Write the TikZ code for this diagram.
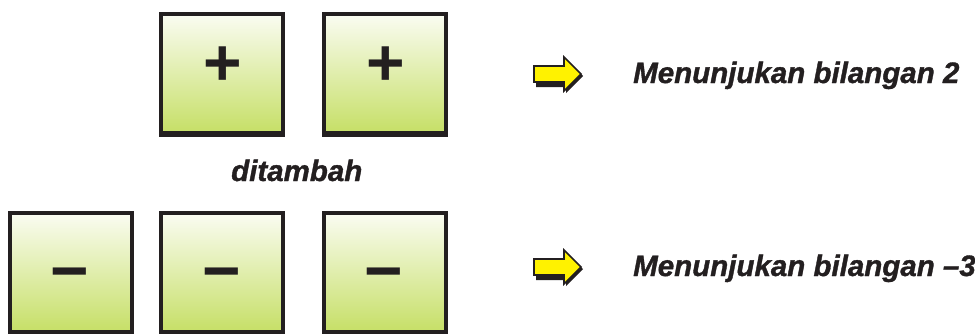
\documentclass[tikz,border=0pt]{standalone}
\usepackage{fontspec}
\setmainfont{Liberation Sans}
\newfontfamily\heavyfont[FakeBold=1.2]{Liberation Sans Bold Italic}
\definecolor{ink}{HTML}{231F20}
\definecolor{boxtop}{HTML}{FAFCF2}
\definecolor{boxbot}{HTML}{C6DF66}
\definecolor{arrowyel}{HTML}{FFF200}
\tikzset{
  tile/.style={draw=ink, line width=4pt, top color=boxtop, bottom color=boxbot,
    minimum width=122pt, minimum height=119pt, inner sep=0pt, outer sep=0pt},
  sign/.style={font=\bfseries\fontsize{66}{66}\selectfont, text=ink, inner sep=0pt},
  label/.style={font=\heavyfont\fontsize{29.5}{29.5}\selectfont, text=ink, inner sep=0pt, anchor=base west},
  arrowshape/.style={fill=arrowyel, draw=ink, line width=1.6pt, line join=miter},
}
\newcommand{\yarrow}[2]{%
  \fill[ink] ({#1+2},{#2+2}) -- ({#1+30+2},{#2+2}) -- ({#1+30+2},{#2-6+2}) -- ({#1+47+2},{#2+11+2}) -- ({#1+30+2},{#2+28+2}) -- ({#1+30+2},{#2+22+2}) -- ({#1+2},{#2+22+2}) -- cycle;
  \draw[arrowshape] (#1,{#2+3}) -- ({#1+30},{#2+3}) -- ({#1+30},{#2-6}) -- ({#1+47},{#2+11}) -- ({#1+30},{#2+28}) -- ({#1+30},{#2+19}) -- (#1,{#2+19}) -- cycle;
}
\begin{document}
\begin{tikzpicture}[x=1pt,y=-1pt]
\useasboundingbox (0,0) rectangle (975,333);
% shadows under tiles
\foreach \x/\y in {222/73.5, 384.5/73.5, 70.5/272.5, 222/272.5, 384.5/272.5}
  \fill[ink] ({\x-63},{\y+57}) rectangle ({\x+63},{\y+63});
\node[tile] (p1) at (222,73.5) {};
\node[tile] (p2) at (384.5,73.5) {};
\node[tile] (m1) at (70.5,272.5) {};
\node[tile] (m2) at (222,272.5) {};
\node[tile] (m3) at (384.5,272.5) {};
\node[sign] (sp1) at (223,66.5) {+};
\node[sign] (sp2) at (385.5,66.5) {+};
\node[sign] (sm1) at (70,281) {−};
\node[sign] (sm2) at (222,281) {−};
\node[sign] (sm3) at (384,281) {−};
\node[label] (tambah) at (231,181) {ditambah};
\yarrow{534}{63}
\yarrow{534}{256}
\node[label] (t1) at (633,83) {Menunjukan bilangan 2};
\node[label] (t2) at (633,276) {Menunjukan bilangan –3};
\end{tikzpicture}
\end{document}
